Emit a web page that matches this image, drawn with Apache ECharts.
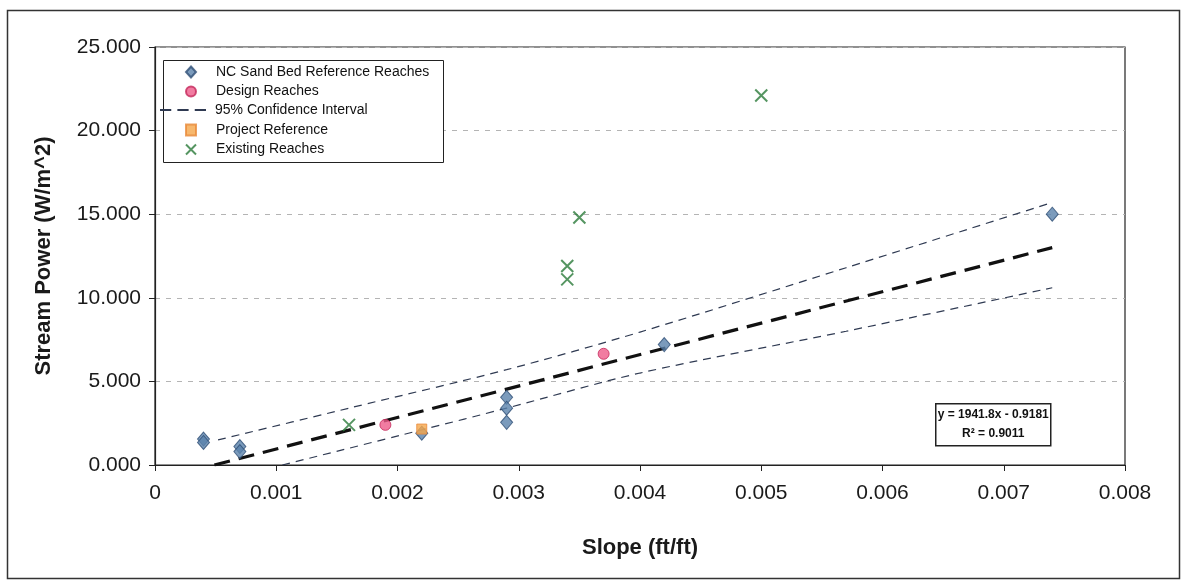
<!DOCTYPE html>
<html>
<head>
<meta charset="utf-8">
<script src="https://cdn.jsdelivr.net/npm/echarts@6/dist/echarts.min.js"></script>
<style>
html,body{margin:0;padding:0;background:#fff;}
#chart{width:1187px;height:582px;}
</style>
</head>
<body>
<div id="chart"></div>
<script>
// ---- data ----
const sandBed = [[0.0004,1.55],[0.0004,1.35],[0.0007,1.1],[0.0007,0.8],[0.0022,1.9],[0.0029,4.05],[0.0029,3.4],[0.0029,2.55],[0.0042,7.2],[0.0074,15.0]];
const designReaches = [[0.0019,2.4],[0.0037,6.65]];
const projectReference = [[0.0022,2.15]];
const existingReaches = [[0.0016,2.4],[0.0034,11.9],[0.0034,11.1],[0.0035,14.8],[0.0050,22.1]];
const trendLine = [[0.00049,0],[0.0074,13.0]];
const ciUpper = [[0.00052,1.5],[0.0016,3.4],[0.0029,5.7],[0.0040,7.95],[0.0057,11.8],[0.0074,15.7]];
const ciLower = [[0.00105,0],[0.0022,2.1],[0.0029,3.4],[0.0040,5.5],[0.0057,8.0],[0.0074,10.6]];
const xTicks = {min:0, max:0.008, interval:0.001};
const yTicks = {min:0, max:25, interval:5};
const legendNames = ['NC Sand Bed Reference Reaches','Design Reaches','95% Confidence Interval','Project Reference','Existing Reaches'];
const equationText = ['y = 1941.8x - 0.9181','R\u00B2 = 0.9011'];

const xPath = 'path://M0,0L10,10M10,0L0,10';
const dashIcon = 'path://M0,0h11v2h-11zM17,0h11v2h-11zM34,0h11v2h-11z';
const font = 'Liberation Sans, Arial, sans-serif';
const legendText = {fontFamily:font, fontSize:14, color:'#111', lineHeight:14};

const chart = echarts.init(document.getElementById('chart'));
chart.setOption({
  animation:false,
  backgroundColor:'#fff',
  grid:{left:155, right:62, top:47, bottom:117, show:true, borderColor:'#222', borderWidth:1.2, backgroundColor:'transparent'},
  xAxis:{
    type:'value', min:xTicks.min, max:xTicks.max, interval:xTicks.interval,
    name:'Slope (ft/ft)', nameLocation:'middle', nameGap:72,
    nameTextStyle:{fontFamily:font, fontWeight:'bold', fontSize:22, color:'#1a1a1a'},
    axisLine:{show:true, onZero:false, lineStyle:{color:'#222', width:1.2}},
    axisTick:{show:true, length:6, lineStyle:{color:'#222'}},
    axisLabel:{fontFamily:font, fontSize:21, color:'#1a1a1a', margin:18,
      formatter:function(v){ return v===0 ? '0' : v.toFixed(3); }},
    splitLine:{show:false}
  },
  yAxis:{
    type:'value', min:yTicks.min, max:yTicks.max, interval:yTicks.interval,
    name:'Stream Power (W/m^2)', nameLocation:'middle', nameGap:100,
    nameTextStyle:{fontFamily:font, fontWeight:'bold', fontSize:22, color:'#1a1a1a'},
    axisLine:{show:true, onZero:false, lineStyle:{color:'#222', width:1.2}},
    axisTick:{show:true, length:6, lineStyle:{color:'#222'}},
    axisLabel:{fontFamily:font, fontSize:21, color:'#1a1a1a', margin:14,
      formatter:function(v){ return v.toFixed(3); }},
    splitLine:{show:true, lineStyle:{color:'#b4b4b4', width:1, type:[5,6]}}
  },
  legend:[
    {data:legendNames.slice(0,2), orient:'vertical', left:185, top:65, padding:0,
      itemWidth:10, itemHeight:11, itemGap:5.5, textStyle:Object.assign({padding:[0,0,0,15]}, legendText)},
    {data:[{name:legendNames[2], icon:dashIcon}], orient:'vertical', left:160, top:103, padding:0,
      itemWidth:46, itemHeight:3, textStyle:Object.assign({padding:[0,0,0,4]}, legendText)},
    {data:legendNames.slice(3), orient:'vertical', left:185, top:123, padding:0,
      itemWidth:10, itemHeight:11, itemGap:5.5, textStyle:Object.assign({padding:[0,0,0,15]}, legendText)}
  ],
  series:[
    {name:'trend', type:'line', data:trendLine, symbol:'none', silent:true, z:2,
      lineStyle:{color:'#111', width:3.2, type:[16,9]}},
    {name:'95% Confidence Interval', type:'line', data:ciUpper, symbol:'none', smooth:0.3, z:2,
      lineStyle:{color:'#2f3a52', width:1.2, type:[8,6]}, itemStyle:{color:'#2f3a52'}},
    {name:'95% Confidence Interval', type:'line', data:ciLower, symbol:'none', smooth:0.3, z:2,
      lineStyle:{color:'#2f3a52', width:1.2, type:[8,6]}, itemStyle:{color:'#2f3a52'}},
    {name:'NC Sand Bed Reference Reaches', type:'scatter', data:sandBed, symbol:'diamond', symbolSize:[12,14], z:5,
      itemStyle:{color:'#5a82ab', borderColor:'#2f4f75', borderWidth:1}},
    {name:'Design Reaches', type:'scatter', data:designReaches, symbol:'circle', symbolSize:11, z:5,
      itemStyle:{color:'#ee5b8a', borderColor:'#c4275a', borderWidth:1}},
    {name:'Project Reference', type:'scatter', data:projectReference, symbol:'rect', symbolSize:10, z:6,
      itemStyle:{color:'#f5a64a', borderColor:'#e8893a', borderWidth:1}},
    {name:'Existing Reaches', type:'scatter', data:existingReaches, symbol:xPath, symbolSize:12, z:5,
      itemStyle:{color:'rgba(0,0,0,0)', borderColor:'#2a7a3a', borderWidth:2}}
  ],
  graphic:[
    {type:'rect', left:5, top:8, shape:{width:1172, height:568}, style:{fill:'none', stroke:'#333', lineWidth:1.5}, silent:true, z:0},
    {type:'rect', left:163, top:60, shape:{width:280, height:102}, style:{fill:'#fff', stroke:'#222', lineWidth:1}, silent:true, z:3},
    {type:'group', left:935, top:403, z:10, children:[
      {type:'rect', shape:{x:0,y:0,width:115,height:42}, style:{fill:'#fff', stroke:'#222', lineWidth:1.5}},
      {type:'text', x:57.5, y:11, style:{text:equationText[0], fontFamily:font, fontWeight:'bold', fontSize:12, fill:'#111', align:'center', verticalAlign:'middle'}},
      {type:'text', x:57.5, y:30, style:{text:equationText[1], fontFamily:font, fontWeight:'bold', fontSize:12, fill:'#111', align:'center', verticalAlign:'middle'}}
    ]}
  ]
});
</script>
</body>
</html>
